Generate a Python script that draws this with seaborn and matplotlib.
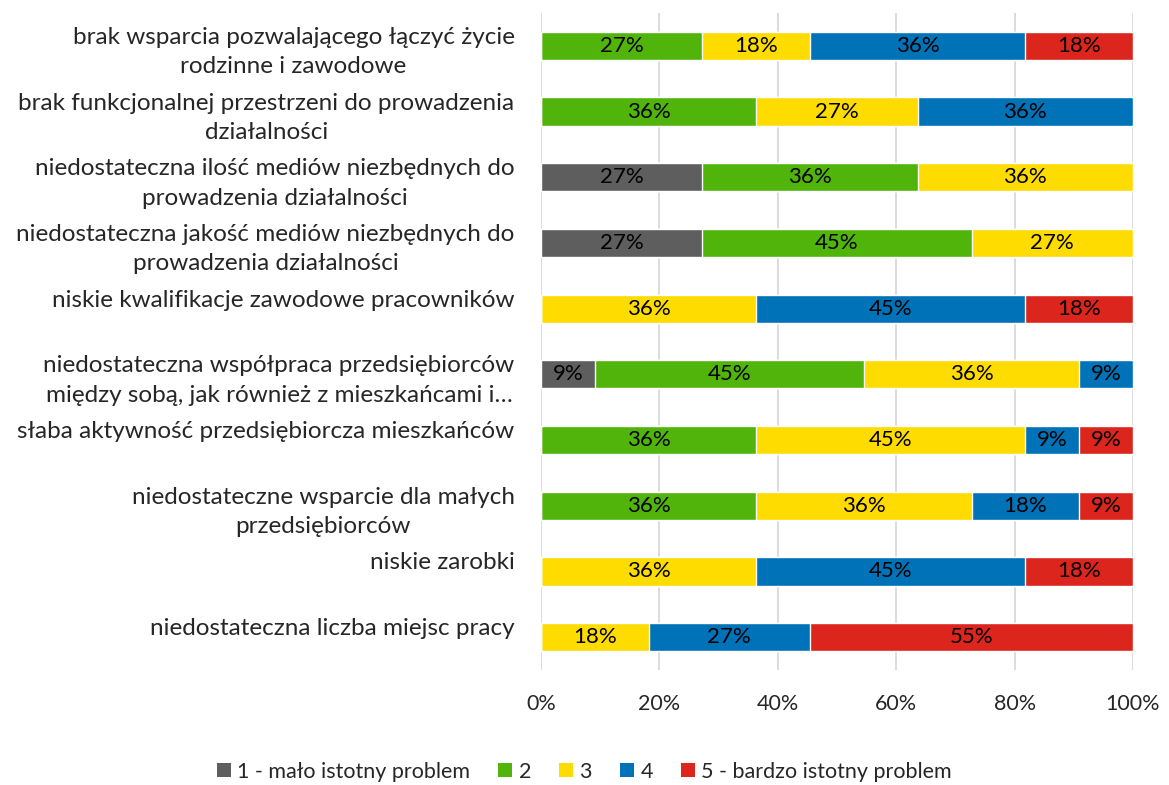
import numpy as np
import pandas as pd
import seaborn as sns
import matplotlib.pyplot as plt
from matplotlib.patches import Patch

# Problem labels (top to bottom), single-line ones get a trailing newline like in Excel
problems = [
    "brak wsparcia pozwalającego łączyć życie\nrodzinne i zawodowe",
    "brak funkcjonalnej przestrzeni do prowadzenia\ndziałalności",
    "niedostateczna ilość mediów niezbędnych do\nprowadzenia działalności",
    "niedostateczna jakość mediów niezbędnych do\nprowadzenia działalności",
    "niskie kwalifikacje zawodowe pracowników\n",
    "niedostateczna współpraca przedsiębiorców\nmiędzy sobą, jak również z mieszkańcami i…",
    "słaba aktywność przedsiębiorcza mieszkańców\n",
    "niedostateczne wsparcie dla małych\nprzedsiębiorców",
    "niskie zarobki\n",
    "niedostateczna liczba miejsc pracy\n",
]

levels = ["1 - mało istotny problem", "2", "3", "4", "5 - bardzo istotny problem"]
colors = ["#5e5e5e", "#50b40a", "#ffdc00", "#0072b8", "#dc251c"]

# share of answers in % per level (11 respondents)
lvl1 = [0, 0, 27.27, 27.27, 0, 9.09, 0, 0, 0, 0]
lvl2 = [27.27, 36.36, 36.36, 45.45, 0, 45.45, 36.36, 36.36, 0, 0]
lvl3 = [18.18, 27.27, 36.36, 27.27, 36.36, 36.36, 45.45, 36.36, 36.36, 18.18]
lvl4 = [36.36, 36.36, 0, 0, 45.45, 9.09, 9.09, 18.18, 45.45, 27.27]
lvl5 = [18.18, 0, 0, 0, 18.18, 0, 9.09, 9.09, 18.18, 54.55]

df = pd.DataFrame({"problem": problems, levels[0]: lvl1, levels[1]: lvl2,
                   levels[2]: lvl3, levels[3]: lvl4, levels[4]: lvl5})
vals = df[levels].to_numpy()
cum = vals.cumsum(axis=1)

sns.set_style("white")
plt.rcParams["font.family"] = ["Lato", "DejaVu Sans"]

fig = plt.figure(figsize=(11.69, 7.85), dpi=100)
ax = fig.add_axes([0.4628, 0.1465, 0.5064, 0.8369])

# stacked bars: draw cumulative totals from the largest down
for k in range(len(levels) - 1, -1, -1):
    sns.barplot(x=cum[:, k], y=df["problem"], orient="h", color=colors[k],
                width=0.43, saturation=1, ax=ax, zorder=2)

# segment labels
for i in range(len(problems)):
    left = 0
    for k in range(len(levels)):
        v = vals[i, k]
        if v > 0:
            ax.text(left + v / 2, i, f"{v:.0f}%", ha="center", va="center",
                    fontsize=16, color="black", zorder=3)
        left += v

ax.set_xlim(0, 100)
ax.set_ylim(len(problems) - 0.5, -0.5)
ax.set_xticks(np.arange(0, 101, 20))
ax.set_xticklabels([f"{t}%" for t in range(0, 101, 20)], fontsize=15.5)
ax.tick_params(axis="x", pad=17, length=0)
ax.tick_params(axis="y", pad=19, length=0)
for lab in ax.get_yticklabels():
    lab.set_fontsize(17.5)
    lab.set_multialignment("center")
    lab.set_linespacing(1.5)
ax.set_xlabel("")
ax.set_ylabel("")
ax.xaxis.grid(True, color="#d9d9d9", linewidth=1.3, zorder=0)
ax.set_axisbelow(True)
for s in ax.spines.values():
    s.set_visible(False)

handles = [Patch(facecolor=c, edgecolor="none") for c in colors]
fig.legend(handles, levels, loc="center", bbox_to_anchor=(0.5, 0.017), ncol=5,
           frameon=False, fontsize=15.5, handlelength=0.65, handleheight=0.65,
           handletextpad=0.3, columnspacing=1.3)

fig.savefig("out.png", dpi=100)
